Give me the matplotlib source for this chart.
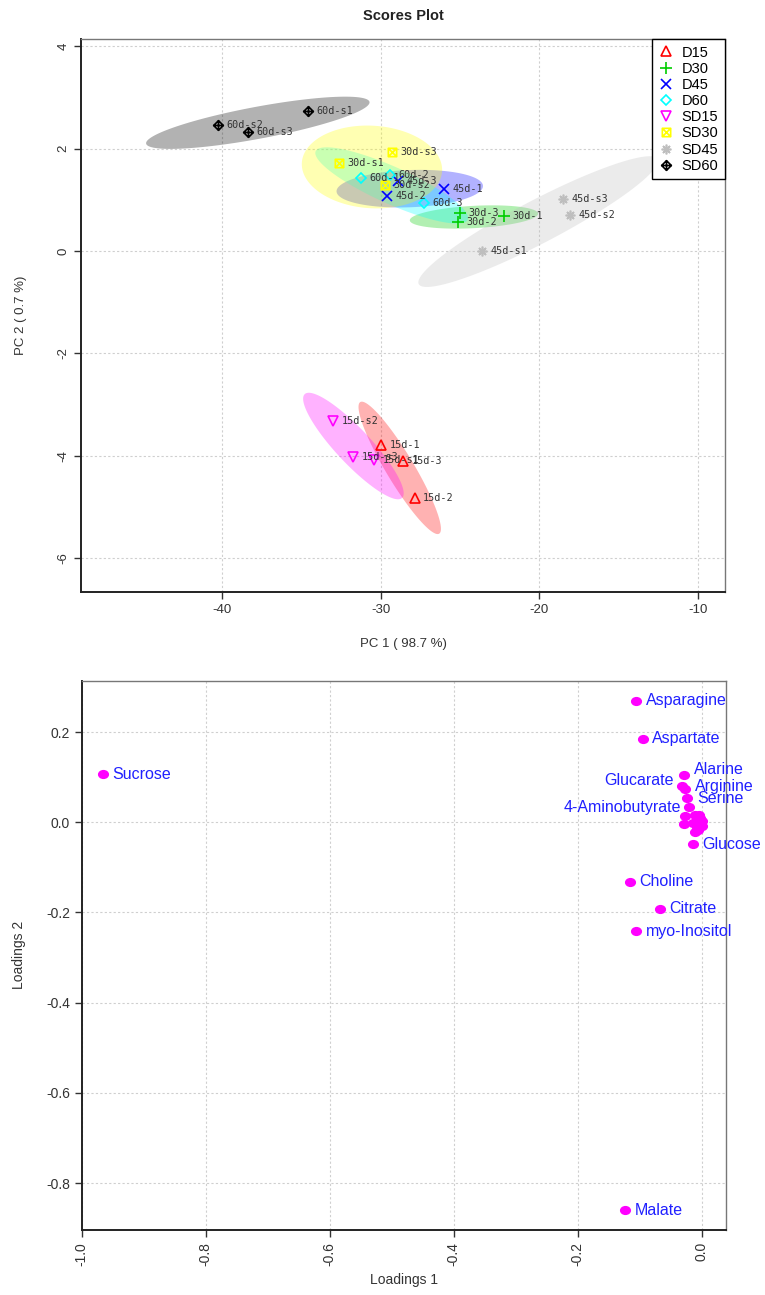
import numpy as np
import matplotlib
matplotlib.use("Agg")
import matplotlib.pyplot as plt
from matplotlib.path import Path

plt.rcParams['font.family'] = ['Liberation Sans', 'DejaVu Sans']
plt.rcParams['axes.unicode_minus'] = False

# ---- scores (PCA) ----
groups = ['D15', 'D30', 'D45', 'D60', 'SD15', 'SD30', 'SD45', 'SD60']
sample_names = {
    'D15': ['15d-1', '15d-2', '15d-3'],
    'D30': ['30d-1', '30d-2', '30d-3'],
    'D45': ['45d-1', '45d-2', '45d-3'],
    'D60': ['60d-1', '60d-2', '60d-3'],
    'SD15': ['15d-s1', '15d-s2', '15d-s3'],
    'SD30': ['30d-s1', '30d-s2', '30d-s3'],
    'SD45': ['45d-s1', '45d-s2', '45d-s3'],
    'SD60': ['60d-s1', '60d-s2', '60d-s3'],
}
pc1 = {
    'D15': [-29.96, -27.87, -28.59],
    'D30': [-22.22, -25.14, -25.02],
    'D45': [-26.03, -29.58, -28.91],
    'D60': [-31.22, -29.43, -27.29],
    'SD15': [-30.42, -33.01, -31.75],
    'SD30': [-32.63, -29.73, -29.31],
    'SD45': [-23.63, -18.08, -18.50],
    'SD60': [-34.61, -40.26, -38.39],
}
pc2 = {
    'D15': [-3.79, -4.82, -4.10],
    'D30': [0.69, 0.56, 0.74],
    'D45': [1.21, 1.07, 1.37],
    'D60': [1.43, 1.48, 0.93],
    'SD15': [-4.08, -3.32, -4.03],
    'SD30': [1.71, 1.28, 1.93],
    'SD45': [0.00, 0.70, 1.02],
    'SD60': [2.73, 2.46, 2.32],
}

# ---- loadings ----
load_names = ['Sucrose', 'Asparagine', 'Aspartate', 'Alarine', 'Glucarate', 'Arginine',
              'Serine', '4-Aminobutyrate', 'Glucose', 'Choline', 'Citrate', 'myo-Inositol',
              'Malate', '', '', '', '', '', '', '', '', '', '', '', '']
load1 = [-0.966, -0.106, -0.095, -0.028, -0.031, -0.026, -0.023, -0.020, -0.014, -0.116,
         -0.067, -0.106, -0.124, -0.027, -0.029, -0.011, -0.004, -0.007, 0.000, -0.0135,
         0.0015, -0.008, -0.0055, -0.011, -0.003]
load2 = [0.107, 0.269, 0.185, 0.104, 0.081, 0.074, 0.053, 0.033, -0.049, -0.132,
         -0.192, -0.242, -0.860, 0.013, -0.004, 0.016, 0.016, 0.005, 0.002, -0.002,
         -0.008, -0.010, -0.018, -0.021, 0.009]
left_labels = ['Glucarate', '4-Aminobutyrate']

CHI2_95 = 5.991  # qchisq(0.95, 2)

colors = {'D15': '#FF0000', 'D30': '#00CD00', 'D45': '#0000FF', 'D60': '#00FFFF',
          'SD15': '#FF00FF', 'SD30': '#FFFF00', 'SD45': '#BEBEBE', 'SD60': '#000000'}

M, L, C = Path.MOVETO, Path.LINETO, Path.CLOSEPOLY
square_x = Path([(-1, -1), (1, -1), (1, 1), (-1, 1), (-1, -1), (-1, -1), (1, 1), (-1, 1), (1, -1)],
                [M, L, L, L, C, M, L, M, L])
diamond_plus = Path([(0, -1), (1, 0), (0, 1), (-1, 0), (0, -1), (0, -1), (0, 1), (-1, 0), (1, 0)],
                    [M, L, L, L, C, M, L, M, L])
markers = {'D15': '^', 'D30': '+', 'D45': 'x', 'D60': 'D', 'SD15': 'v',
           'SD30': square_x, 'SD45': (8, 2, 0), 'SD60': diamond_plus}
msizes = {'D15': 6.5, 'D30': 8, 'D45': 6.5, 'D60': 5.5, 'SD15': 6.5,
          'SD30': 6, 'SD45': 7, 'SD60': 7}


def conf_ellipse(x, y, n=120):
    pts = np.column_stack([x, y])
    mu = pts.mean(axis=0)
    cov = np.cov(pts, rowvar=False)
    vals, vecs = np.linalg.eigh(cov)
    t = np.linspace(0, 2 * np.pi, n)
    circ = np.column_stack([np.cos(t), np.sin(t)])
    r = np.sqrt(CHI2_95 * np.clip(vals, 0, None))
    return mu + (circ * r) @ vecs.T


def style_axes(ax):
    for s in ['top', 'right']:
        ax.spines[s].set_color('#777777')
        ax.spines[s].set_linewidth(1.0)
    for s in ['left', 'bottom']:
        ax.spines[s].set_color('#222222')
        ax.spines[s].set_linewidth(1.4)
    ax.grid(True, color='#cfcfcf', linestyle=(0, (2, 2)), linewidth=0.8)
    ax.set_axisbelow(True)
    ax.tick_params(direction='out', length=5, width=1, color='#333333',
                   labelcolor='#333333')


fig = plt.figure(figsize=(7.65, 12.95), dpi=100)

# ---------------- Scores plot ----------------
ax1 = fig.add_axes([0.1059, 0.5429, 0.8418, 0.4270])
style_axes(ax1)

for g in groups:
    e = conf_ellipse(pc1[g], pc2[g])
    ax1.fill(e[:, 0], e[:, 1], color=colors[g], alpha=0.3, lw=0, zorder=1)

for g in groups:
    ax1.plot(pc1[g], pc2[g], linestyle='none', marker=markers[g], ms=msizes[g],
             mfc='none', mec=colors[g], mew=1.2, label=g, zorder=3)
    for name, x, y in zip(sample_names[g], pc1[g], pc2[g]):
        ax1.annotate(name, (x, y), xytext=(6, 0), textcoords='offset points',
                     ha='left', va='center', fontsize=7.3, family='DejaVu Sans Mono',
                     color='#333333', zorder=4)

ax1.set_xlim(-48.9, -8.3)
ax1.set_ylim(-6.66, 4.14)
ax1.set_xticks([-40, -30, -20, -10])
ax1.set_yticks([4, 2, 0, -2, -4, -6])
ax1.tick_params(axis='both', labelsize=9.5)
for lab in ax1.get_yticklabels():
    lab.set_rotation(90)
    lab.set_va('center')
ax1.set_xlabel('PC 1 ( 98.7 %)', fontsize=9.5, color='#333333', labelpad=16)
ax1.set_ylabel('PC 2 ( 0.7 %)', fontsize=9.5, color='#333333', labelpad=22)
ax1.set_title('Scores Plot', fontsize=10.5, fontweight='bold', color='#222222', pad=14)

leg = ax1.legend(loc='upper right', borderaxespad=0, fancybox=False, edgecolor='black',
                 fontsize=10.5, handlelength=1.0, handletextpad=0.6, labelspacing=0.15,
                 borderpad=0.45, framealpha=1)
leg.get_frame().set_linewidth(1.0)

# ---------------- Loadings plot ----------------
ax2 = fig.add_axes([0.1068, 0.0502, 0.8418, 0.4242])
style_axes(ax2)

dot = Path(Path.unit_circle().vertices * [1.25, 1.0], Path.unit_circle().codes)
ax2.plot(load1, load2, linestyle='none', marker=dot, ms=7, mfc='#FF00FF',
         mec='#FF00FF', zorder=3)
nudge = {'Alarine': 4, 'Glucarate': 4, 'Arginine': 2}
for name, x, y in zip(load_names, load1, load2):
    if not name:
        continue
    if name in left_labels:
        off, ha = -6, 'right'
    else:
        off, ha = 7, 'left'
    ax2.annotate(name, (x, y), xytext=(off, nudge.get(name, 0)), textcoords='offset points',
                 ha=ha, va='center', fontsize=11.5, color='#2020FF', zorder=4)

ax2.set_xlim(-1.0, 0.039)
ax2.set_ylim(-0.904, 0.314)
ax2.set_xticks([-1.0, -0.8, -0.6, -0.4, -0.2, 0.0])
ax2.set_yticks([0.2, 0.0, -0.2, -0.4, -0.6, -0.8])
ax2.set_xticklabels(['-1.0', '-0.8', '-0.6', '-0.4', '-0.2', '0.0'], rotation=90)
ax2.set_yticklabels(['0.2', '0.0', '-0.2', '-0.4', '-0.6', '-0.8'])
ax2.tick_params(axis='both', labelsize=10)
ax2.set_xlabel('Loadings 1', fontsize=10, color='#333333', labelpad=5)
ax2.set_ylabel('Loadings 2', fontsize=10, color='#333333', labelpad=14)

fig.savefig('out.png', dpi=100)
